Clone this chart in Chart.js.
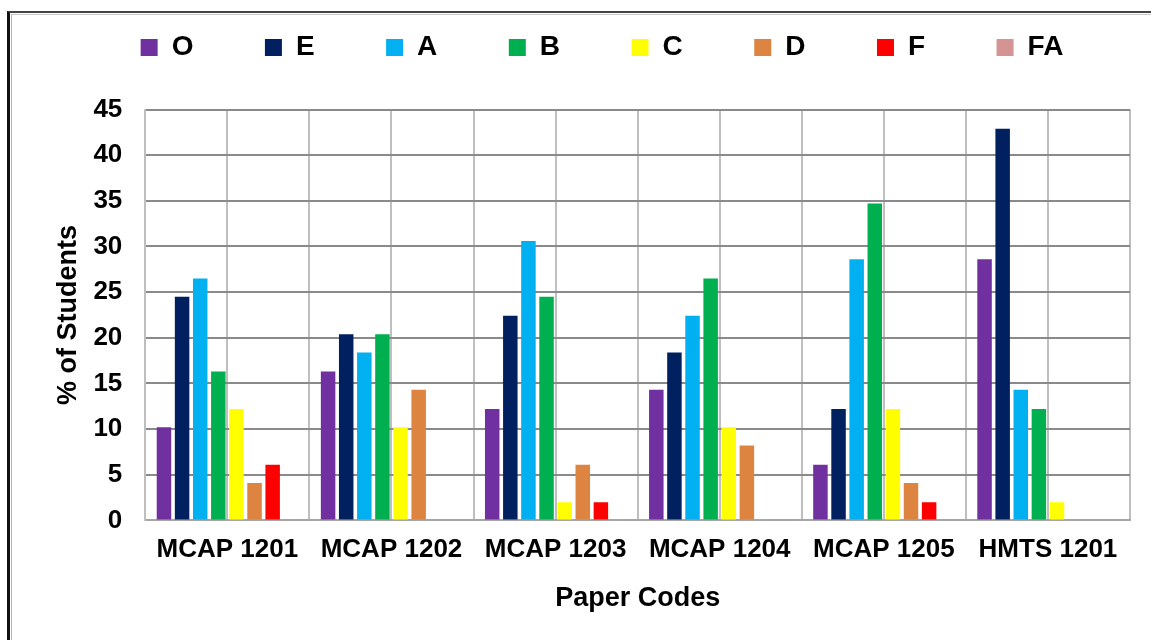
<!DOCTYPE html>
<html>
<head>
<meta charset="utf-8">
<script src="https://cdn.jsdelivr.net/npm/chart.js@4.4.1/dist/chart.umd.min.js"></script>
<style>
  html, body { margin: 0; padding: 0; background: #fff; overflow: hidden; }
  #frame {
    position: absolute; left: 7px; top: 11px; width: 2000px; height: 2000px;
    border-left: 3px solid #111; border-top: 2px solid #444;
  }
  #frame .inner {
    position: absolute; left: 1px; top: 1px; right: 0; bottom: 0;
    border-left: 1px solid #b4b4b4; border-top: 1px solid #c8c8c8;
  }
  #wrap { position: absolute; left: 0; top: 0; width: 1151px; height: 640px; }
</style>
</head>
<body>
<div id="frame"><div class="inner"></div></div>
<div id="wrap"><canvas id="chart" width="1151" height="640"></canvas></div>
<script>
// paper codes on the x axis
const papers = ['MCAP 1201', 'MCAP 1202', 'MCAP 1203', 'MCAP 1204', 'MCAP 1205', 'HMTS 1201'];

// % of students per grade
const gradeO  = [10.2, 16.3, 12.2, 14.3, 6.1, 28.6];
const gradeE  = [24.5, 20.4, 22.4, 18.4, 12.2, 42.9];
const gradeA  = [26.5, 18.4, 30.6, 22.4, 28.6, 14.3];
const gradeB  = [16.3, 20.4, 24.5, 26.5, 34.7, 12.2];
const gradeC  = [12.2, 10.2, 2.0, 10.2, 12.2, 2.0];
const gradeD  = [4.1, 14.3, 6.1, 8.2, 4.1, 0];
const gradeF  = [6.1, 0, 2.0, 0, 2.0, 0];
const gradeFA = [0, 0, 0, 0, 0, 0];

const grades = ['O', 'E', 'A', 'B', 'C', 'D', 'F', 'FA'];
const gradeData = [gradeO, gradeE, gradeA, gradeB, gradeC, gradeD, gradeF, gradeFA];
const gradeColors = ['#7030A0', '#002060', '#00B0F0', '#00B050', '#FFFF00', '#DD8440', '#FF0000', '#D49494'];

Chart.defaults.font.family = "'Liberation Sans', Arial, sans-serif";
Chart.defaults.font.weight = 'bold';
Chart.defaults.font.size = 26;
Chart.defaults.color = '#000';

// nudge the legend row to where the original puts it
const legendNudge = {
    id: 'legendNudge',
    afterLayout(chart) {
        const lg = chart.legend;
        lg.top -= 38; lg.bottom -= 38;
        lg.left += 12; lg.right += 12;
    }
};

new Chart(document.getElementById('chart'), {
    type: 'bar',
    data: {
        labels: papers,
        datasets: grades.map((g, i) => ({
            label: g,
            data: gradeData[i],
            backgroundColor: gradeColors[i],
            borderWidth: 0,
            categoryPercentage: 0.883,
            barPercentage: 0.8
        }))
    },
    options: {
        responsive: false,
        animation: false,
        layout: { padding: { left: 50, right: 21, top: 0, bottom: 25 } },
        plugins: {
            legend: {
                position: 'top',
                labels: { boxWidth: 17, boxHeight: 17, padding: 71.5, font: { size: 28, weight: 'bold' } }
            },
            tooltip: { enabled: false }
        },
        scales: {
            x: {
                grid: { offset: true, color: '#bfbfbf', lineWidth: 2, drawTicks: false },
                border: { color: '#a6a6a6', width: 2 },
                ticks: { padding: 14, font: { size: 26, weight: 'bold' } },
                title: { display: true, text: 'Paper Codes', padding: { top: 3, bottom: 0 }, font: { size: 27, weight: 'bold' } }
            },
            xc: {
                type: 'category',
                position: 'bottom',
                grid: { offset: false, color: '#bfbfbf', lineWidth: 2, drawTicks: false },
                border: { display: false },
                ticks: { display: false }
            },
            y: {
                min: 0, max: 45,
                ticks: { stepSize: 5, padding: 23, font: { size: 26, weight: 'bold' } },
                grid: { color: '#8a8a8a', lineWidth: 2, drawTicks: false },
                border: { color: '#bfbfbf', width: 2 },
                title: { display: true, text: '% of Students', padding: { top: 2, bottom: -14 }, font: { size: 27, weight: 'bold' } }
            }
        }
    },
    plugins: [legendNudge]
});
</script>
</body>
</html>
